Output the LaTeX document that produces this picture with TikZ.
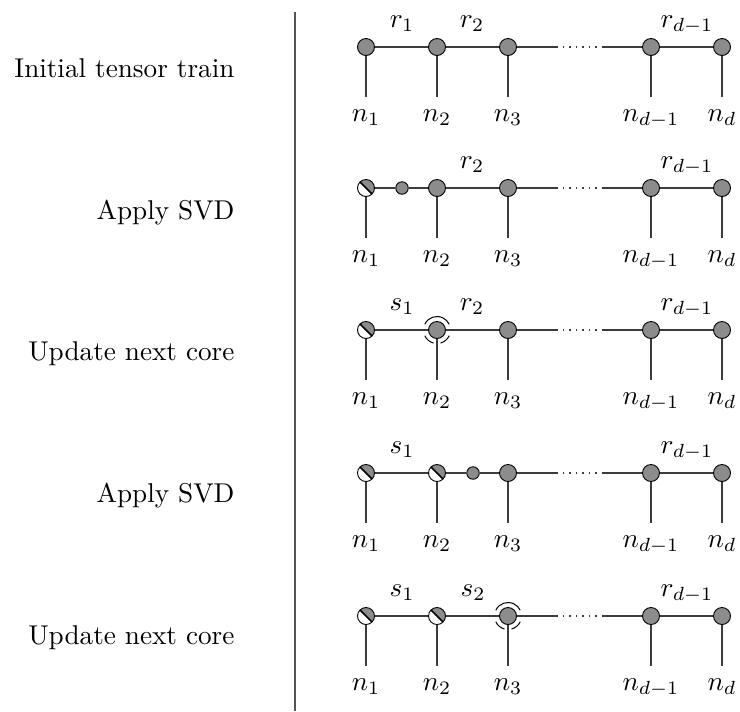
\documentclass[tikz,border=0pt]{standalone}
\usetikzlibrary{calc}
\definecolor{coregray}{RGB}{140,140,140}
\definecolor{bondgray}{RGB}{60,60,60}
\definecolor{rulegray}{RGB}{85,85,85}
% one drawing unit
\newlength\unitpx
\setlength\unitpx{0.368pt}
\tikzset{
  every node/.style={font=\normalsize, inner sep=0pt},
  core/.style={circle, draw=black, fill=coregray, line width=0.9\unitpx, minimum size=17\unitpx, inner sep=0pt},
  smallcore/.style={core, minimum size=12.5\unitpx},
  orthocore/.style={circle, draw=black, fill=white, line width=0.9\unitpx, minimum size=17\unitpx, inner sep=0pt,
    path picture={
      \fill[coregray] (path picture bounding box.north west) -- (path picture bounding box.north east)
        -- (path picture bounding box.south east) -- cycle;
      \draw[black, line width=1.7\unitpx] (path picture bounding box.north west) -- (path picture bounding box.south east);
    }},
  bond/.style={draw=bondgray, line width=1.1\unitpx},
  dotbond/.style={draw=bondgray, line width=1.1\unitpx, dash pattern=on 1.5\unitpx off 5\unitpx},
  rowlabel/.style={anchor=base east},
  idx/.style={anchor=base},
  halo/.style={draw=black, line width=1\unitpx},
}
\begin{document}
\begin{tikzpicture}[x=\unitpx, y=-\unitpx]
  \useasboundingbox (0,0) rectangle (740,711);
  % separator between captions and diagrams
  \coordinate (septop) at (295,12);
  \coordinate (sepbot) at (295,711);
  \draw[rulegray, line width=1.3\unitpx] (septop) -- (sepbot);

  % ---------- common pieces of every row ----------
  % #1 row id, #2 row y
  \newcommand\legsandtail[2]{%
    \node[core] (#1c) at (508,#2) {};
    \node[core] (#1d) at (651,#2) {};
    \node[core] (#1e) at (722,#2) {};
    \coordinate (#1p) at (556,#2);
    \coordinate (#1q) at (603,#2);
    \draw[bond] (#1c) -- (#1p);
    \draw[dotbond] (#1p) -- (#1q);
    \draw[bond] (#1q) -- (#1d);
    \draw[bond] (#1d) -- (#1e);
    \node[idx] (#1rd) at (687,#2-20) {$r_{d-1}$};
    \foreach \nm/\xx/\lab in {a/366/n_1, b/437/n_2, c/508/n_3, d/651/n_{d-1}, e/722/n_d}{
      \coordinate (#1\nm leg) at (\xx,#2+50);
      \draw[bond] (#1\nm) -- (#1\nm leg);
      \node[idx] (#1\nm lab) at (\xx,#2+74) {$\lab$};
    }%
  }

  % ---------- row 1: initial tensor train ----------
  \node[rowlabel] (capA) at (235,77) {Initial tensor train};
  \node[core] (Aa) at (366,47) {};
  \node[core] (Ab) at (437,47) {};
  \legsandtail{A}{47}
  \draw[bond] (Aa) -- (Ab);
  \draw[bond] (Ab) -- (Ac);
  \node[idx] (Ar1) at (402,27) {$r_1$};
  \node[idx] (Ar2) at (472,27) {$r_2$};

  % ---------- row 2: SVD of the first core ----------
  \node[rowlabel] (capB) at (235,219) {Apply SVD};
  \node[orthocore] (Ba) at (366,188) {};
  \node[smallcore] (Bs) at (402,188) {};
  \node[core] (Bb) at (437,188) {};
  \legsandtail{B}{188}
  \draw[bond] (Ba) -- (Bs);
  \draw[bond] (Bs) -- (Bb);
  \draw[bond] (Bb) -- (Bc);
  \node[idx] (Br2) at (472,168) {$r_2$};

  % ---------- row 3: absorb into second core ----------
  \node[rowlabel] (capC) at (235,360) {Update next core};
  \node[orthocore] (Ca) at (366,330) {};
  \node[core] (Cb) at (437,330) {};
  \legsandtail{C}{330}
  \draw[bond] (Ca) -- (Cb);
  \draw[bond] (Cb) -- (Cc);
  \node[idx] (Cs1) at (402,310) {$s_1$};
  \node[idx] (Cr2) at (472,310) {$r_2$};
  \draw[halo] ($(Cb.center)+(205:13.5)$) arc (205:335:13.5);
  \draw[halo] ($(Cb.center)+(105:13.5)$) arc (105:155:13.5);
  \draw[halo] ($(Cb.center)+(25:13.5)$) arc (25:75:13.5);

  % ---------- row 4: SVD of the second core ----------
  \node[rowlabel] (capD) at (235,502) {Apply SVD};
  \node[orthocore] (Da) at (366,473) {};
  \node[orthocore] (Db) at (437,473) {};
  \node[smallcore] (Ds) at (473,473) {};
  \legsandtail{D}{473}
  \draw[bond] (Da) -- (Db);
  \draw[bond] (Db) -- (Ds);
  \draw[bond] (Ds) -- (Dc);
  \node[idx] (Ds1) at (402,453) {$s_1$};

  % ---------- row 5: absorb into third core ----------
  \node[rowlabel] (capE) at (235,644) {Update next core};
  \node[orthocore] (Ea) at (366,616) {};
  \node[orthocore] (Eb) at (437,616) {};
  \legsandtail{E}{616}
  \draw[bond] (Ea) -- (Eb);
  \draw[bond] (Eb) -- (Ec);
  \node[idx] (Es1) at (402,596) {$s_1$};
  \node[idx] (Es2) at (473,596) {$s_2$};
  \draw[halo] ($(Ec.center)+(205:13.5)$) arc (205:335:13.5);
  \draw[halo] ($(Ec.center)+(105:13.5)$) arc (105:155:13.5);
  \draw[halo] ($(Ec.center)+(25:13.5)$) arc (25:75:13.5);
\end{tikzpicture}
\end{document}
